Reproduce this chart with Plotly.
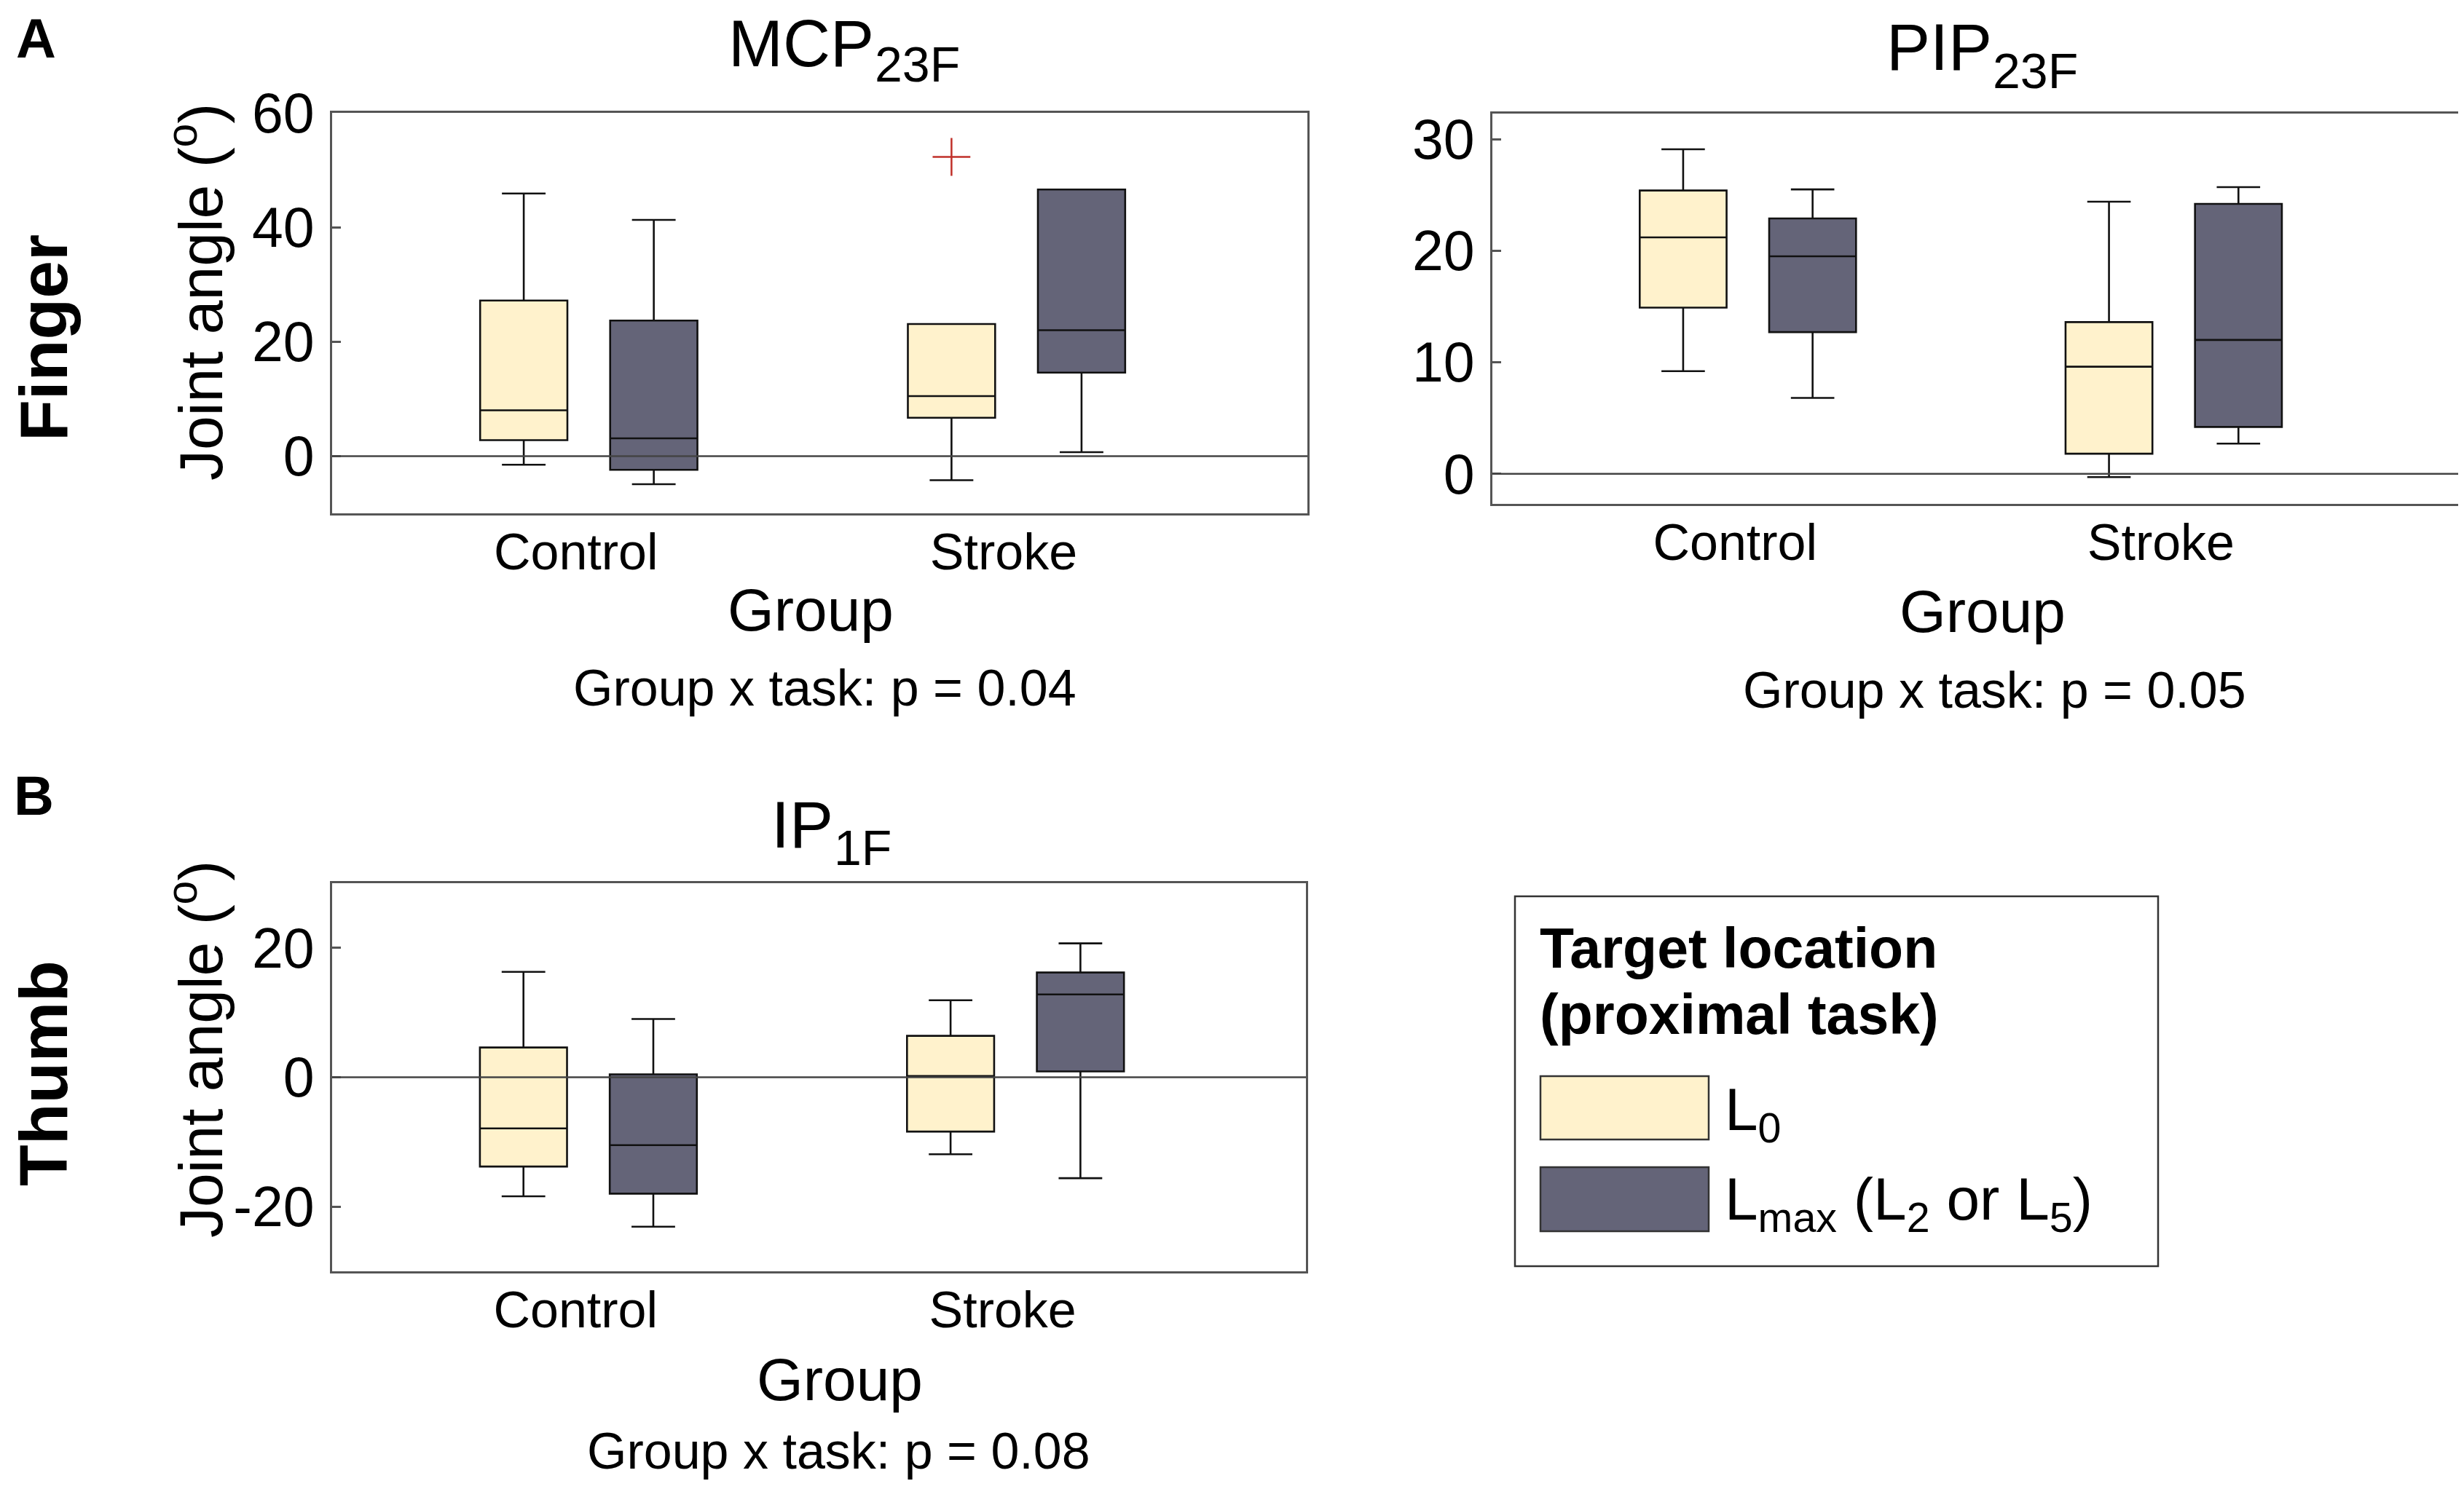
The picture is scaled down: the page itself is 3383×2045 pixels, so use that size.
import plotly.graph_objects as go

# ---------------- data ----------------
GROUPS = ["Control", "Stroke"]
TASK_NAMES = ["L0", "Lmax"]
# each entry: [lower whisker, Q1, median, Q3, upper whisker] per group (Control, Stroke)
MCP_L0 = [[-1.5, 2.8, 8.0, 27.2, 45.9], [-4.2, 6.7, 10.5, 23.1, 23.1]]
MCP_LMAX = [[-4.9, -2.4, 3.1, 23.7, 41.3], [0.7, 14.6, 22.0, 46.6, 46.6]]
MCP_OUTLIER_GROUP = ["Stroke"]
MCP_OUTLIER_TASK = ["L0"]
MCP_OUTLIER_Y = [52.3]

PIP_L0 = [[9.2, 14.9, 21.2, 25.4, 29.1], [-0.3, 1.8, 9.6, 13.6, 24.4]]
PIP_LMAX = [[6.8, 12.7, 19.5, 22.9, 25.5], [2.7, 4.2, 12.0, 24.2, 25.7]]

IP_L0 = [[-18.4, -13.8, -7.9, 4.6, 16.3], [-11.9, -8.4, 0.2, 6.4, 11.9]]
IP_LMAX = [[-23.1, -18.0, -10.5, 0.45, 9.0], [-15.6, 0.9, 12.8, 16.2, 20.7]]

P_TEXTS = ["Group x task: p = 0.04", "Group x task: p = 0.05", "Group x task: p = 0.08"]
TITLE_MAIN = ["MCP", "PIP", "IP"]
TITLE_SUB = ["23F", "23F", "1F"]
YTICKS_MCP = [0, 20, 40, 60]
YTICKS_PIP = [0, 10, 20, 30]
YTICKS_IP = [-20, 0, 20]

# ---------------- style / layout ----------------
W, H = 3383, 2045
FONT = "Liberation Sans, Arial, Helvetica, sans-serif"
FILL = {"L0": "#FFF2CC", "Lmax": "#646478"}
GROUP_POS = [1, 2]
TASK_OFFSET = {"L0": -0.152, "Lmax": 0.152}
BOX_W = 0.204
LABEL_SHIFT = -0.03
XRANGE = [0.40, 2.68]


def fx(px):
    return px / W


def fy(py):
    return 1 - py / H


fig = go.Figure()

panels = [
    dict(key="", data={"L0": MCP_L0, "Lmax": MCP_LMAX}, yr=[-10, 60], yt=YTICKS_MCP,
         dx=[448, 1787], dy=[147, 697]),
    dict(key="2", data={"L0": PIP_L0, "Lmax": PIP_LMAX}, yr=[-2.7, 32.3], yt=YTICKS_PIP,
         dx=[2041, 3374], dy=[148, 684]),
    dict(key="3", data={"L0": IP_L0, "Lmax": IP_LMAX}, yr=[-30, 30], yt=YTICKS_IP,
         dx=[448, 1785], dy=[1205, 1738]),
]

shapes = []
for p in panels:
    k = p["key"]
    for t in TASK_NAMES:
        stats = p["data"][t]
        fig.add_trace(go.Box(
            x=[g + TASK_OFFSET[t] for g in GROUP_POS],
            lowerfence=[s[0] for s in stats],
            q1=[s[1] for s in stats],
            median=[s[2] for s in stats],
            q3=[s[3] for s in stats],
            upperfence=[s[4] for s in stats],
            width=BOX_W,
            fillcolor=FILL[t],
            line=dict(color="#111111", width=2.6),
            whiskerwidth=0.5,
            boxpoints=False,
            showlegend=False,
            hoverinfo="skip",
            xaxis="x" + k, yaxis="y" + k,
        ))
    axis_common = dict(showline=True, mirror=True, linecolor="#555555", linewidth=3,
                       showgrid=False, zeroline=False, automargin=False)
    fig.layout["xaxis" + k] = dict(
        domain=[fx(p["dx"][0]), fx(p["dx"][1])], anchor="y" + k, range=XRANGE,
        tickvals=[g + LABEL_SHIFT for g in GROUP_POS], ticktext=GROUPS,
        ticks="", tickfont=dict(size=70, color="black", family=FONT),
        ticklabelstandoff=-10, **axis_common)
    fig.layout["yaxis" + k] = dict(
        domain=[fy(p["dy"][1]), fy(p["dy"][0])], anchor="x" + k, range=p["yr"],
        tickvals=p["yt"], ticktext=[str(v) for v in p["yt"]],
        ticks="inside", ticklen=12, tickwidth=2.5, tickcolor="#555555",
        tickfont=dict(size=77, color="black", family=FONT), ticklabelstandoff=6,
        **axis_common)
    shapes.append(dict(type="line", xref=f"x{k} domain", yref="y" + k, x0=0, x1=1, y0=0, y1=0,
                       line=dict(color="#444444", width=2.5), layer="above"))

# outlier marker
fig.add_trace(go.Scatter(
    x=[GROUP_POS[GROUPS.index(g)] + TASK_OFFSET[t] for g, t in zip(MCP_OUTLIER_GROUP, MCP_OUTLIER_TASK)],
    y=MCP_OUTLIER_Y, mode="markers", showlegend=False, hoverinfo="skip",
    marker=dict(symbol="cross-thin", size=37, line=dict(color="#C0302A", width=2.5)),
    xaxis="x", yaxis="y"))

annotations = []


def ann(text, x, y, size, bold=False, angle=0, xanchor="center", yanchor="middle"):
    annotations.append(dict(
        text=f"<b>{text}</b>" if bold else text, x=fx(x), y=fy(y), xref="paper", yref="paper",
        showarrow=False, textangle=angle, xanchor=xanchor, yanchor=yanchor,
        font=dict(size=size, color="black", family=FONT)))


# panel letters and row labels
ann("A", 41, 0, 76, bold=True, yanchor="top")
ann("B", 38, 1084, 76, bold=True)
ann("Finger", 52, 456, 93, bold=True, angle=-90)
ann("Thumb", 52, 1466, 93, bold=True, angle=-90)

# y labels
ann("Joint angle (<sup>o</sup>)", 262, 393, 84, angle=-90)
ann("Joint angle (<sup>o</sup>)", 262, 1433, 84, angle=-90)

# titles: main part right-anchored, subscript left-anchored next to it
TITLE_POS = [(1194, 52, 80), (2729, 57, 89), (1138, 1125, 1156)]
for main, sub, (xe, yc, ys) in zip(TITLE_MAIN, TITLE_SUB, TITLE_POS):
    ann(main, xe, yc, 90, xanchor="right")
    ann(sub, xe - 3, ys, 68, xanchor="left")

# x titles and p-values
ann("Group", 1105, 829, 82)
ann("Group", 2714, 832, 82)
ann("Group", 1145, 1886, 82)
ann(P_TEXTS[0], 1124, 937, 70)
ann(P_TEXTS[1], 2730, 940, 70)
ann(P_TEXTS[2], 1143, 1985, 70)

# legend (drawn manually)
shapes.append(dict(type="rect", xref="paper", yref="paper", x0=fx(2072), x1=fx(2955),
                   y0=fy(1731), y1=fy(1223), line=dict(color="#333333", width=2.5),
                   fillcolor="rgba(0,0,0,0)"))
shapes.append(dict(type="rect", xref="paper", yref="paper", x0=fx(2107), x1=fx(2338),
                   y0=fy(1557), y1=fy(1470), line=dict(color="#333333", width=2.5),
                   fillcolor=FILL["L0"]))
shapes.append(dict(type="rect", xref="paper", yref="paper", x0=fx(2107), x1=fx(2338),
                   y0=fy(1683), y1=fy(1595), line=dict(color="#333333", width=2.5),
                   fillcolor=FILL["Lmax"]))
ann("Target location", 2104, 1294, 77, bold=True, xanchor="left")
ann("(proximal task)", 2104, 1385, 77, bold=True, xanchor="left")
ann("L<sub>0</sub>", 2358, 1521, 82, xanchor="left")
ann("L<sub>max</sub> (L<sub>2</sub> or L<sub>5</sub>)", 2358, 1644, 82, xanchor="left")

fig.update_layout(
    width=W, height=H, margin=dict(l=0, r=0, t=0, b=0, pad=0, autoexpand=False),
    paper_bgcolor="white", plot_bgcolor="white",
    font=dict(family=FONT, color="black"),
    shapes=shapes, annotations=annotations, showlegend=False,
)

fig.write_html("out.html")
